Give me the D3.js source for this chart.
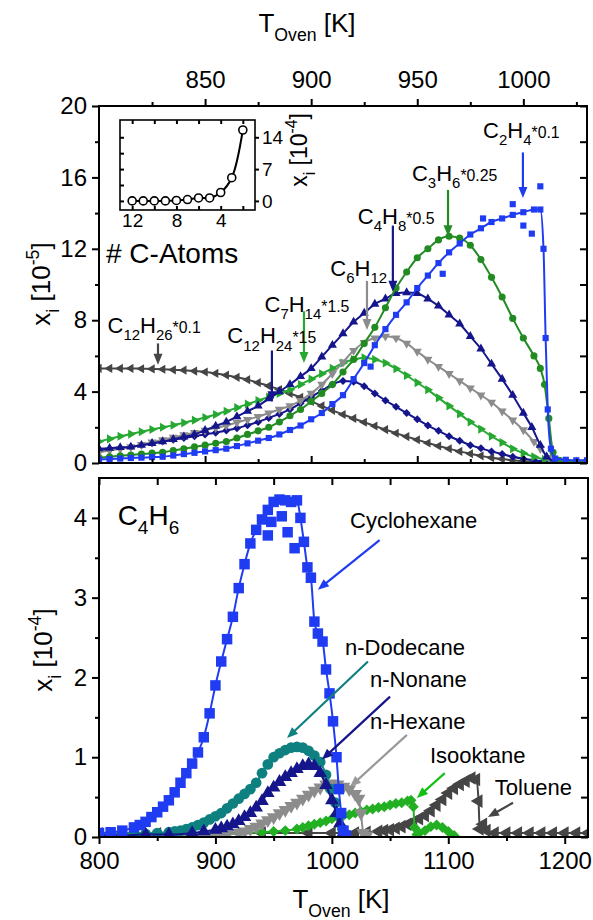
<!DOCTYPE html>
<html>
<head>
<meta charset="utf-8">
<script src="https://cdn.jsdelivr.net/npm/d3@7"></script>
<style>
  body { margin: 0; background: #fff; }
  svg { font-family: "Liberation Sans", Arial, sans-serif; }
  .axis path, .axis line { stroke: #000; stroke-width: 2; }
  .axis text { font-size: 24px; fill: #000; }
</style>
</head>
<body>
<svg width="593" height="920"></svg>
<script>
// ---- top panel data: T_Oven [K], x_i [1e-5] ----
const c12h26 = [[800,5.3],[805,5.3],[810,5.3],[815,5.3],[820,5.28],[825,5.27],[830,5.25],[835,5.22],[840,5.2],[845,5.15],[850,5.1],[855,5.02],[860,4.92],[865,4.8],[870,4.67],[875,4.5],[880,4.32],[885,4.12],[890,3.9],[895,3.68],[900,3.45],[905,3.2],[910,2.95],[915,2.72],[920,2.5],[925,2.28],[930,2.07],[935,1.87],[940,1.67],[945,1.48],[950,1.3],[955,1.12],[960,0.95],[965,0.8],[970,0.65],[975,0.52],[980,0.4],[985,0.3],[990,0.22],[995,0.15],[1000,0.1],[1005,0.07],[1010,0.05],[1015,0.04],[1020,0.04],[1025,0.04],[1030,0.04]];
const c12h24 = [[800,0.7],[805,0.75],[810,0.82],[815,0.9],[820,1.0],[825,1.1],[830,1.2],[835,1.3],[840,1.4],[845,1.5],[850,1.6],[855,1.7],[860,1.82],[865,1.95],[870,2.12],[875,2.3],[880,2.52],[885,2.75],[890,3.0],[895,3.35],[900,3.7],[905,4.05],[910,4.4],[915,4.6],[920,4.55],[925,4.3],[930,3.9],[935,3.5],[940,3.15],[945,2.8],[950,2.45],[955,2.1],[960,1.8],[965,1.5],[970,1.25],[975,1.0],[980,0.82],[985,0.65],[990,0.5],[995,0.35],[1000,0.24],[1005,0.15],[1010,0.08],[1015,0.05],[1020,0.04],[1025,0.04],[1030,0.04]];
const c7h14 = [[800,1.2],[805,1.35],[810,1.5],[815,1.62],[820,1.75],[825,1.88],[830,2.0],[835,2.12],[840,2.25],[845,2.4],[850,2.55],[855,2.72],[860,2.9],[865,3.1],[870,3.3],[875,3.5],[880,3.7],[885,3.9],[890,4.1],[895,4.4],[900,4.7],[905,5.0],[910,5.3],[915,5.6],[920,5.8],[925,5.9],[930,5.8],[935,5.6],[940,5.28],[945,4.9],[950,4.5],[955,4.1],[960,3.65],[965,3.2],[970,2.75],[975,2.3],[980,1.9],[985,1.5],[990,1.15],[995,0.8],[1000,0.55],[1005,0.35],[1010,0.2],[1015,0.1],[1020,0.06],[1025,0.05],[1030,0.05]];
const c6h12 = [[800,0.6],[805,0.7],[810,0.8],[815,0.9],[820,1.03],[825,1.17],[830,1.3],[835,1.43],[840,1.57],[845,1.7],[850,1.83],[855,1.97],[860,2.1],[865,2.27],[870,2.43],[875,2.6],[880,2.8],[885,3.0],[890,3.2],[895,3.5],[900,3.9],[905,4.4],[910,5.0],[915,5.65],[920,6.3],[925,6.75],[930,7.0],[935,7.1],[940,7.0],[945,6.7],[950,6.25],[955,5.8],[960,5.4],[965,5.0],[970,4.6],[975,4.2],[980,3.8],[985,3.4],[990,2.9],[995,2.4],[1000,1.85],[1005,1.2],[1008,0.8],[1012,0.3],[1016,0.1],[1020,0.06],[1025,0.05],[1030,0.05]];
const c4h8 = [[800,0.8],[805,0.83],[810,0.87],[815,0.9],[820,1.0],[825,1.1],[830,1.2],[835,1.33],[840,1.47],[845,1.6],[850,1.83],[855,2.07],[860,2.3],[865,2.6],[870,2.9],[875,3.2],[880,3.6],[885,4.0],[890,4.4],[895,4.85],[900,5.3],[905,5.95],[910,6.6],[915,7.25],[920,7.9],[925,8.4],[930,8.9],[935,9.2],[940,9.5],[945,9.55],[950,9.5],[955,9.2],[960,8.8],[965,8.3],[970,7.8],[975,7.1],[980,6.4],[985,5.55],[990,4.7],[995,3.8],[1000,2.8],[1004,2.0],[1008,1.0],[1011,0.35],[1015,0.1],[1020,0.06],[1025,0.05],[1030,0.05]];
const c3h6 = [[800,0.3],[805,0.35],[810,0.4],[815,0.45],[820,0.5],[825,0.55],[830,0.6],[835,0.7],[840,0.8],[845,0.9],[850,1.0],[855,1.1],[860,1.2],[865,1.4],[870,1.6],[875,1.8],[880,2.0],[885,2.3],[890,2.65],[895,3.0],[900,3.45],[905,3.9],[910,4.4],[915,5.1],[920,5.8],[925,6.7],[930,7.6],[935,8.7],[940,9.8],[945,10.7],[950,11.5],[955,12.0],[960,12.5],[965,12.7],[970,12.6],[975,12.2],[980,11.4],[985,10.4],[990,9.3],[995,8.1],[1000,7.0],[1005,6.0],[1008,5.3],[1010,4.4],[1012,2.5],[1014,0.6],[1017,0.15],[1020,0.08],[1025,0.06],[1030,0.06]];
const c2h4 = [[800,0.2],[805,0.22],[810,0.25],[815,0.28],[820,0.3],[825,0.33],[830,0.35],[835,0.42],[840,0.5],[845,0.57],[850,0.65],[855,0.72],[860,0.8],[865,0.95],[870,1.1],[875,1.25],[880,1.4],[885,1.6],[890,1.85],[895,2.1],[900,2.45],[905,2.8],[910,3.3],[915,3.8],[920,4.7],[925,5.6],[930,6.6],[935,7.5],[940,8.3],[945,9.0],[950,9.8],[955,10.5],[960,11.2],[965,11.8],[970,12.3],[975,12.8],[980,13.15],[985,13.5],[990,13.7],[995,13.9],[1000,14.05],[1005,14.2],[1008,14.2],[1009.5,12.0],[1010.5,7.0],[1011.5,3.0],[1013,0.8],[1015,0.25],[1020,0.18],[1025,0.15],[1030,0.15]];
const c2h4Scatter = [[981,13.7],[995,14.5],[1008,15.5],[1000,13.3],[1004,12.85],[962,10.6],[928,5.4]];

// ---- inset: number of C atoms vs x_i [1e-4] ----
const insetAtoms = [12, 11, 10, 9, 8, 7, 6, 5, 4, 3, 2];
const insetValues = [0, 0, 0, 0, 0.1, 0.3, 0.65, 0.65, 1.85, 5.1, 15.6];

// ---- bottom panel: C4H6, x_i [1e-4] ----
const cyclohexane = [[800,0.05],[810,0.06],[820,0.08],[830,0.12],[835,0.15],[840,0.19],[845,0.25],[850,0.31],[855,0.38],[860,0.46],[865,0.56],[870,0.68],[875,0.8],[880,0.92],[885,1.06],[890,1.25],[895,1.55],[900,1.9],[905,2.2],[910,2.48],[915,2.76],[920,3.12],[925,3.42],[930,3.68],[935,3.85],[940,3.98],[945,4.1],[950,4.2],[955,4.23],[960,4.22],[965,4.2],[970,4.22],[973,4.0],[976,3.7],[979,3.38],[982,3.25],[985,2.7],[988,2.55],[992,2.45],[995,2.1],[998,1.8],[1001,1.45],[1004,1.0],[1006,0.6],[1008,0.3],[1010,0.08],[1012,0.02]];
const cyclohexaneScatter = [[948,3.95],[957,4.02],[962,3.82],[968,3.62],[945,3.78]];
const dodecane = [[800,0.03],[810,0.03],[820,0.03],[830,0.04],[840,0.04],[850,0.05],[860,0.06],[865,0.07],[870,0.08],[875,0.1],[880,0.12],[885,0.15],[890,0.18],[895,0.22],[900,0.26],[905,0.3],[910,0.36],[915,0.42],[920,0.48],[925,0.54],[930,0.6],[935,0.68],[940,0.8],[945,0.91],[950,1.0],[955,1.05],[960,1.09],[965,1.12],[970,1.13],[975,1.12],[980,1.08],[985,1.02],[990,0.94],[995,0.78],[999,0.6],[1003,0.43],[1006,0.27],[1009,0.1],[1011,0.03]];
const nonane = [[800,0.02],[820,0.02],[840,0.03],[860,0.03],[880,0.05],[890,0.07],[900,0.09],[905,0.11],[910,0.13],[915,0.16],[920,0.2],[925,0.25],[930,0.3],[935,0.37],[940,0.45],[945,0.55],[950,0.62],[955,0.69],[960,0.75],[965,0.8],[970,0.85],[975,0.89],[980,0.91],[985,0.89],[990,0.8],[995,0.65],[1000,0.46],[1004,0.3],[1007,0.17],[1010,0.06],[1013,0.02]];
const hexane = [[800,0.01],[850,0.01],[900,0.02],[910,0.03],[920,0.05],[925,0.07],[930,0.1],[935,0.13],[940,0.17],[945,0.21],[950,0.25],[955,0.3],[960,0.34],[965,0.39],[970,0.43],[975,0.48],[980,0.53],[985,0.58],[990,0.62],[995,0.66],[1000,0.67],[1005,0.66],[1010,0.63],[1015,0.6],[1020,0.54],[1023,0.48],[1025,0.3],[1027,0.05],[1030,0.02]];
const isooktane = [[800,0.05],[820,0.05],[840,0.05],[860,0.05],[880,0.05],[900,0.05],[920,0.05],[940,0.06],[950,0.07],[960,0.08],[970,0.1],[975,0.12],[980,0.14],[985,0.16],[990,0.18],[995,0.2],[1000,0.23],[1005,0.25],[1010,0.27],[1015,0.28],[1020,0.3],[1025,0.32],[1030,0.34],[1035,0.35],[1040,0.37],[1045,0.38],[1050,0.4],[1055,0.42],[1060,0.43],[1065,0.45],[1068,0.46],[1070,0.38],[1071,0.12],[1073,0.03],[1075,0.05],[1080,0.08],[1085,0.13],[1090,0.15],[1095,0.12],[1100,0.07],[1105,0.02]];
const toluene = [[800,0.04],[850,0.04],[900,0.04],[940,0.05],[980,0.05],[1000,0.05],[1020,0.05],[1030,0.06],[1040,0.07],[1045,0.08],[1050,0.09],[1055,0.11],[1060,0.13],[1065,0.16],[1070,0.19],[1075,0.23],[1080,0.27],[1085,0.33],[1090,0.4],[1095,0.47],[1100,0.55],[1105,0.61],[1110,0.66],[1115,0.7],[1120,0.74],[1124,0.72],[1126,0.45],[1127,0.1],[1130,0.16],[1133,0.08],[1140,0.05],[1150,0.05],[1160,0.05],[1170,0.05],[1180,0.05],[1190,0.05],[1200,0.05],[1210,0.05],[1220,0.05]];

// ticks
const topTicksMajor = [850, 900, 950, 1000];
const topTicksMinor = [825, 875, 925, 975, 1025];
const yTopMajor = [0, 4, 8, 12, 16, 20];
const yTopMinor = [2, 6, 10, 14, 18];
const botTicksMajor = [800, 900, 1000, 1100, 1200];
const botTicksMinor = [850, 950, 1050, 1150];
const yBotMajor = [0, 1, 2, 3, 4];
const yBotMinor = [0.5, 1.5, 2.5, 3.5];

const BLUE = "#1f3cf2", GREEN = "#228b22", NAVY = "#15158c", GRAY = "#8c8c8c",
      LGREEN = "#27a832", DGRAY = "#454545", TEAL = "#0f8080", IGREEN = "#22b022";

// annotations: text anchor [T, value], arrow from -> to
const topLabels = [
  { parts: [["C"],["2","sub"],["H"],["4","sub"],["*0.1","small"]], at: [981, 18.2], arrow: [[999.8, 17.4], [999.8, 14.85]], color: BLUE },
  { parts: [["C"],["3","sub"],["H"],["6","sub"],["*0.25","small"]], at: [947.5, 15.8], arrow: [[964.5, 15.3], [964.5, 12.7]], color: GREEN },
  { parts: [["C"],["4","sub"],["H"],["8","sub"],["*0.5","small"]], at: [922, 13.4], arrow: [[938.5, 13.3], [938.5, 9.6]], color: NAVY },
  { parts: [["C"],["6","sub"],["H"],["12","sub"]], at: [909, 10.5], arrow: [[926.3, 10.2], [926.3, 7.45]], color: GRAY },
  { parts: [["C"],["7","sub"],["H"],["14","sub"],["*1.5","small"]], at: [878, 8.45], arrow: [[896.6, 8.5], [896.6, 5.6]], color: LGREEN },
  { parts: [["C"],["12","sub"],["H"],["24","sub"],["*15","small"]], at: [860.5, 6.7], arrow: [[881.5, 6.3], [881.5, 3.4]], color: NAVY },
  { parts: [["C"],["12","sub"],["H"],["26","sub"],["*0.1","small"]], at: [804, 7.3], arrow: [[827.8, 6.7], [827.8, 5.5]], color: DGRAY }
];
const botLabels = [
  { text: "Cyclohexane", at: [1015.6, 3.87], arrow: [[1041, 3.72], [988, 3.1]], color: BLUE },
  { text: "n-Dodecane", at: [1011.3, 2.28], arrow: [[1031, 2.2], [961.5, 1.24]], color: TEAL },
  { text: "n-Nonane", at: [1032.8, 1.88], arrow: [[1050, 1.76], [991.5, 0.97]], color: NAVY },
  { text: "n-Hexane", at: [1032.8, 1.36], arrow: [[1064.5, 1.28], [1015.6, 0.63]], color: "#999" },
  { text: "Isooktane", at: [1084.3, 0.93], arrow: [[1097, 0.8], [1073, 0.49]], color: "#13c013" },
  { text: "Toluene", at: [1140, 0.53], arrow: [[1155.6, 0.43], [1134, 0.25]], color: DGRAY }
];

const svg = d3.select("svg");

const xTop = d3.scaleLinear().domain([800, 1030]).range([99, 587]);
const yTop = d3.scaleLinear().domain([0, 20]).range([463, 106]);
const xBot = d3.scaleLinear().domain([800, 1220]).range([99, 588]);
const yBot = d3.scaleLinear().domain([0, 4.5]).range([837, 478]);

function rich(g, x, y, parts, size, anchor) {
  const t = g.append("text").attr("x", x).attr("y", y)
    .attr("font-size", size).attr("text-anchor", anchor || "start");
  let cur = 0;
  parts.forEach(function(p) {
    const kind = p[1] || "";
    const off = kind === "sub" ? 0.33 * size : kind === "sup" ? -0.42 * size : 0;
    const ts = t.append("tspan").attr("dy", off - cur).text(p[0]);
    if (kind) ts.attr("font-size", size * (kind === "small" ? 0.72 : 0.68));
    cur = off;
  });
  return t;
}

function arrow(g, x1, y1, x2, y2, color) {
  const a = Math.atan2(y2 - y1, x2 - x1);
  const L = 11, W = 4.5;
  g.append("line").attr("x1", x1).attr("y1", y1)
    .attr("x2", x2 - Math.cos(a) * L * 0.8).attr("y2", y2 - Math.sin(a) * L * 0.8)
    .attr("stroke", color).attr("stroke-width", 2.2);
  const bx = x2 - Math.cos(a) * L, by = y2 - Math.sin(a) * L;
  g.append("path")
    .attr("d", "M" + x2 + "," + y2 +
      "L" + (bx - Math.sin(a) * W) + "," + (by + Math.cos(a) * W) +
      "L" + (bx + Math.sin(a) * W) + "," + (by - Math.cos(a) * W) + "Z")
    .attr("fill", color);
}

const rot = { square: 0, circle: 0, up: 0, down: 180, right: 90, left: -90, diamond: 45 };
function shapeType(s) {
  if (s === "circle") return d3.symbolCircle;
  if (s === "square" || s === "diamond") return d3.symbolSquare;
  return d3.symbolTriangle;
}

function scatter(g, data, x, y, shape, size, color) {
  g.append("g").selectAll("path").data(data).enter().append("path")
    .attr("d", d3.symbol(shapeType(shape), size))
    .attr("transform", function(d) { return "translate(" + x(d[0]) + "," + y(d[1]) + ") rotate(" + rot[shape] + ")"; })
    .attr("fill", color);
}

function series(g, data, x, y, shape, size, color, lineW) {
  scatter(g, data, x, y, shape, size, color);
  g.append("path").datum(data)
    .attr("d", d3.line().x(function(d) { return x(d[0]); }).y(function(d) { return y(d[1]); }).curve(d3.curveMonotoneX))
    .attr("fill", "none").attr("stroke", color).attr("stroke-width", lineW);
}

// clip paths
const defs = svg.append("defs");
defs.append("clipPath").attr("id", "clipTop").append("rect")
  .attr("x", 99).attr("y", 106).attr("width", 488).attr("height", 357);
defs.append("clipPath").attr("id", "clipBot").append("rect")
  .attr("x", 99).attr("y", 478).attr("width", 489).attr("height", 359);

// ---------- top panel ----------
const gt = svg.append("g").attr("clip-path", "url(#clipTop)");
series(gt, c12h26, xTop, yTop, "left", 36, DGRAY, 2);
series(gt, c12h24, xTop, yTop, "diamond", 32, NAVY, 2);
series(gt, c7h14, xTop, yTop, "right", 36, LGREEN, 2);
series(gt, c6h12, xTop, yTop, "down", 36, GRAY, 2);
series(gt, c4h8, xTop, yTop, "up", 36, NAVY, 2);
series(gt, c3h6, xTop, yTop, "circle", 40, GREEN, 2);
series(gt, c2h4, xTop, yTop, "square", 38, BLUE, 2);
scatter(gt, c2h4Scatter, xTop, yTop, "square", 38, BLUE);

// axes top panel
function ax(g, axis, tx, ty, labels) {
  const a = g.append("g").attr("class", "axis").attr("transform", "translate(" + tx + "," + ty + ")").call(axis);
  a.select(".domain").remove();
  if (!labels) a.selectAll("text").remove();
  return a;
}
ax(svg, d3.axisTop(xTop).tickValues(topTicksMajor).tickSize(7).tickPadding(11).tickFormat(d3.format("d")), 0, 106, true);
ax(svg, d3.axisTop(xTop).tickValues(topTicksMinor).tickSize(4), 0, 106, false);
ax(svg, d3.axisBottom(xTop).tickValues(topTicksMajor).tickSize(-7), 0, 463, false);
ax(svg, d3.axisBottom(xTop).tickValues(topTicksMinor).tickSize(-4), 0, 463, false);
ax(svg, d3.axisLeft(yTop).tickValues(yTopMajor).tickSize(7).tickPadding(5), 99, 0, true);
ax(svg, d3.axisLeft(yTop).tickValues(yTopMinor).tickSize(4), 99, 0, false);
ax(svg, d3.axisRight(yTop).tickValues(yTopMajor).tickSize(-7), 587, 0, false);
ax(svg, d3.axisRight(yTop).tickValues(yTopMinor).tickSize(-7), 587, 0, false);
svg.append("rect").attr("x", 99).attr("y", 106).attr("width", 488).attr("height", 357)
  .attr("fill", "none").attr("stroke", "#000").attr("stroke-width", 2);

// titles top
rich(svg, 307, 32, [["T"], ["Oven", "sub"], [" [K]"]], 26, "middle");
rich(svg, 0, 0, [["x"], ["i", "sub"], [" [10"], ["-5", "sup"], ["]"]], 26, "middle")
  .attr("transform", "translate(50,284) rotate(-90)");

// top annotations
topLabels.forEach(function(l) {
  rich(svg, xTop(l.at[0]), yTop(l.at[1]), l.parts, 22);
  arrow(svg, xTop(l.arrow[0][0]), yTop(l.arrow[0][1]), xTop(l.arrow[1][0]), yTop(l.arrow[1][1]), l.color);
});

// inset
const xIn = d3.scaleLinear().domain([13.1, 0.9]).range([120, 255]);
const yIn = d3.scaleLinear().domain([-2, 17.8]).range([210, 120]);
const gi = svg.append("g");
gi.append("rect").attr("x", 120).attr("y", 120).attr("width", 135).attr("height", 90)
  .attr("fill", "#fff").attr("stroke", "#000").attr("stroke-width", 1.6);
const inPts = insetAtoms.map(function(a, i) { return [a, insetValues[i]]; });
gi.append("path").datum(inPts)
  .attr("d", d3.line().x(function(d) { return xIn(d[0]); }).y(function(d) { return yIn(d[1]); }).curve(d3.curveCatmullRom))
  .attr("fill", "none").attr("stroke", "#000").attr("stroke-width", 2);
gi.selectAll("circle").data(inPts).enter().append("circle")
  .attr("cx", function(d) { return xIn(d[0]); }).attr("cy", function(d) { return yIn(d[1]); })
  .attr("r", 4).attr("fill", "#fff").attr("stroke", "#000").attr("stroke-width", 1.6);
const ia = gi.append("g").attr("class", "axis").attr("transform", "translate(0,210)")
  .call(d3.axisBottom(xIn).tickValues([12, 8, 4]).tickSize(0).tickPadding(4));
ia.select(".domain").remove();
ia.selectAll("text").style("font-size", "19px");
const ia2 = gi.append("g").attr("class", "axis").attr("transform", "translate(0,120)")
  .call(d3.axisTop(xIn).tickValues([12, 10, 8, 6, 4, 2]).tickSize(-4));
ia2.select(".domain").remove(); ia2.selectAll("text").remove();
const ia4 = gi.append("g").attr("class", "axis").attr("transform", "translate(0,210)")
  .call(d3.axisBottom(xIn).tickValues([12, 10, 8, 6, 4, 2]).tickSize(-4));
ia4.select(".domain").remove(); ia4.selectAll("text").remove();
const ia3 = gi.append("g").attr("class", "axis").attr("transform", "translate(255,0)")
  .call(d3.axisRight(yIn).tickValues([0, 7, 14]).tickSize(4).tickPadding(3));
ia3.select(".domain").remove();
ia3.selectAll("text").style("font-size", "19px");
const ia5 = gi.append("g").attr("class", "axis").attr("transform", "translate(120,0)")
  .call(d3.axisLeft(yIn).tickValues([0, 3.5, 7, 10.5, 14]).tickSize(-4));
ia5.select(".domain").remove(); ia5.selectAll("text").remove();
gi.selectAll(".axis line").attr("stroke-width", 1.4);
rich(gi, 0, 0, [["x"], ["i", "sub"], [" [10"], ["-4", "sup"], ["]"]], 23, "middle")
  .attr("transform", "translate(307,150) rotate(-90)");
gi.append("text").attr("x", 106).attr("y", 263).attr("font-size", 28).text("# C-Atoms");

// ---------- bottom panel ----------
const gb = svg.append("g").attr("clip-path", "url(#clipBot)");
series(gb, toluene, xBot, yBot, "left", 80, DGRAY, 2);
series(gb, isooktane, xBot, yBot, "diamond", 60, IGREEN, 2);
series(gb, hexane, xBot, yBot, "down", 80, GRAY, 2);
series(gb, dodecane, xBot, yBot, "circle", 90, TEAL, 2);
series(gb, nonane, xBot, yBot, "up", 80, NAVY, 2);
series(gb, cyclohexane, xBot, yBot, "square", 110, BLUE, 2);
scatter(gb, cyclohexaneScatter, xBot, yBot, "square", 110, BLUE);

ax(svg, d3.axisBottom(xBot).tickValues(botTicksMajor).tickSize(7).tickPadding(8).tickFormat(d3.format("d")), 0, 837, true);
ax(svg, d3.axisBottom(xBot).tickValues(botTicksMinor).tickSize(4), 0, 837, false);
ax(svg, d3.axisTop(xBot).tickValues(botTicksMajor.concat(botTicksMinor)).tickSize(-7), 0, 478, false);
ax(svg, d3.axisLeft(yBot).tickValues(yBotMajor).tickSize(7).tickPadding(5).tickFormat(d3.format("d")), 99, 0, true);
ax(svg, d3.axisLeft(yBot).tickValues(yBotMinor).tickSize(4), 99, 0, false);
ax(svg, d3.axisRight(yBot).tickValues(yBotMajor.concat(yBotMinor)).tickSize(-7), 588, 0, false);
svg.append("rect").attr("x", 99).attr("y", 478).attr("width", 489).attr("height", 359)
  .attr("fill", "none").attr("stroke", "#000").attr("stroke-width", 2);

rich(svg, 341, 908, [["T"], ["Oven", "sub"], [" [K]"]], 26, "middle");
rich(svg, 0, 0, [["x"], ["i", "sub"], [" [10"], ["-4", "sup"], ["]"]], 26, "middle")
  .attr("transform", "translate(52,650) rotate(-90)");
rich(svg, xBot(816), yBot(3.91), [["C"], ["4", "sub"], ["H"], ["6", "sub"]], 28);

botLabels.forEach(function(l) {
  svg.append("text").attr("x", xBot(l.at[0])).attr("y", yBot(l.at[1])).attr("font-size", 22).text(l.text);
  arrow(svg, xBot(l.arrow[0][0]), yBot(l.arrow[0][1]), xBot(l.arrow[1][0]), yBot(l.arrow[1][1]), l.color);
});
</script>
</body>
</html>
